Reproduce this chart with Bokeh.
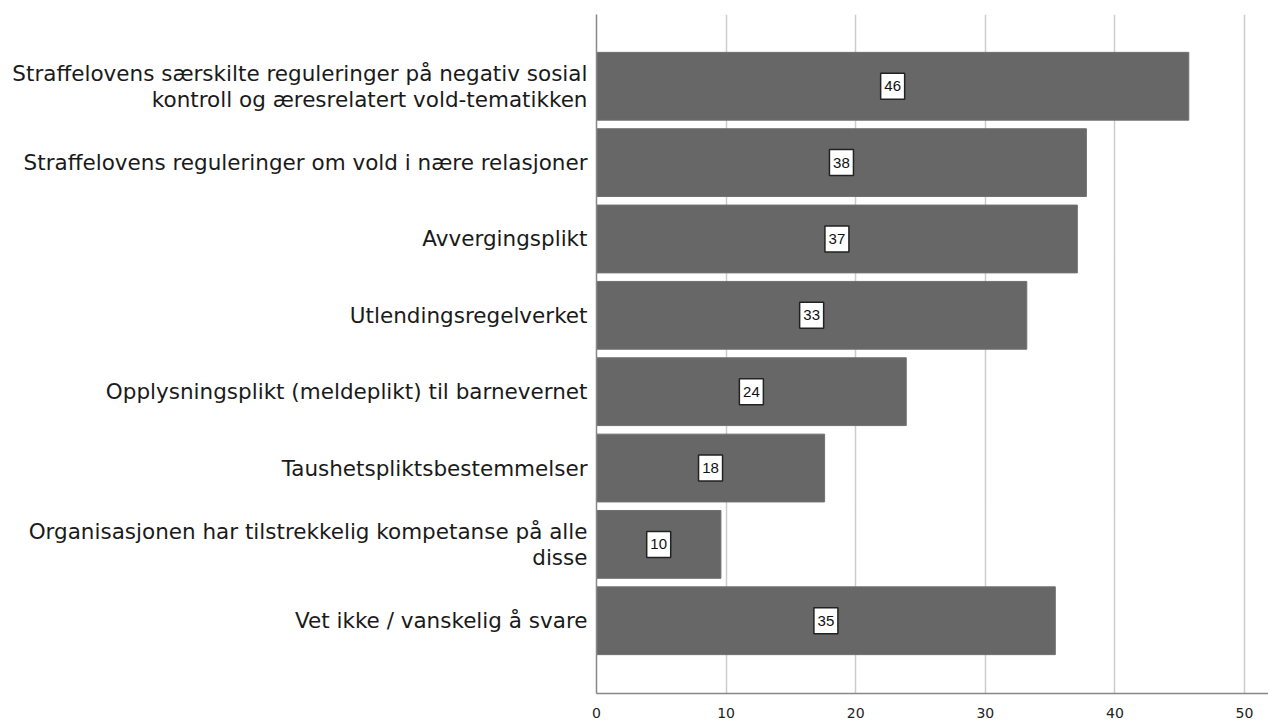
from bokeh.plotting import figure
from bokeh.models import Range1d, FixedTicker, ColumnDataSource
from bokeh.core.properties import value
from bokeh.embed import file_html
from bokeh.resources import INLINE

categories = [
    "Straffelovens særskilte reguleringer på negativ sosial\nkontroll og æresrelatert vold-tematikken",
    "Straffelovens reguleringer om vold i nære relasjoner",
    "Avvergingsplikt",
    "Utlendingsregelverket",
    "Opplysningsplikt (meldeplikt) til barnevernet",
    "Taushetspliktsbestemmelser",
    "Organisasjonen har tilstrekkelig kompetanse på alle\ndisse",
    "Vet ikke / vanskelig å svare",
]
values = [45.7, 37.8, 37.1, 33.2, 23.9, 17.6, 9.6, 35.4]
x_ticks = [0, 10, 20, 30, 40, 50]

n = len(categories)
ypos = [n - i for i in range(n)]
src = ColumnDataSource(dict(
    y=ypos,
    v=values,
    mid=[v / 2 for v in values],
    lab=[str(int(round(v))) for v in values],
))

p = figure(width=1268, height=720, output_backend="svg", toolbar_location=None,
           x_range=Range1d(0, 51.85), y_range=Range1d(0.047, 8.94),
           min_border_left=596, min_border_right=0, min_border_top=14, min_border_bottom=25)
p.outline_line_color = None
p.background_fill_color = "white"

p.hbar(y="y", right="v", left=0, height=0.888, source=src,
       fill_color="#676767", line_color="#707070", line_width=1)

p.rect(x="mid", y="y", width=24, height=26, width_units="screen", height_units="screen",
       source=src, fill_color="white", line_color="#222222", line_width=1.5)
p.text(x="mid", y="y", text="lab", source=src, text_align="center", text_baseline="middle",
       text_font=value("Liberation Sans"), text_font_size="15px", text_color="#111111")

p.xaxis.ticker = FixedTicker(ticks=x_ticks)
p.xaxis.major_tick_line_color = None
p.xaxis.minor_tick_line_color = None
p.xaxis.axis_line_color = "#888888"
p.xaxis.axis_line_width = 1.5
p.xaxis.major_label_text_font = "DejaVu Sans"
p.xaxis.major_label_text_font_size = "14px"
p.xaxis.major_label_text_color = "#222222"
p.xaxis.major_label_standoff = 8

p.yaxis.ticker = FixedTicker(ticks=ypos)
p.yaxis.major_label_overrides = {y: c for y, c in zip(ypos, categories)}
p.yaxis.major_tick_line_color = None
p.yaxis.minor_tick_line_color = None
p.yaxis.axis_line_color = "#888888"
p.yaxis.axis_line_width = 1.5
p.yaxis.major_label_text_font = "DejaVu Sans"
p.yaxis.major_label_text_font_size = "21.5px"
p.yaxis.major_label_text_color = "#1a1a1a"
p.yaxis.major_label_standoff = 3
p.yaxis.major_label_text_line_height = 1.05

p.xgrid.grid_line_color = "#cccccc"
p.xgrid.grid_line_width = 1.5
p.ygrid.grid_line_color = None

open("out.html", "w").write(file_html(p, INLINE))
